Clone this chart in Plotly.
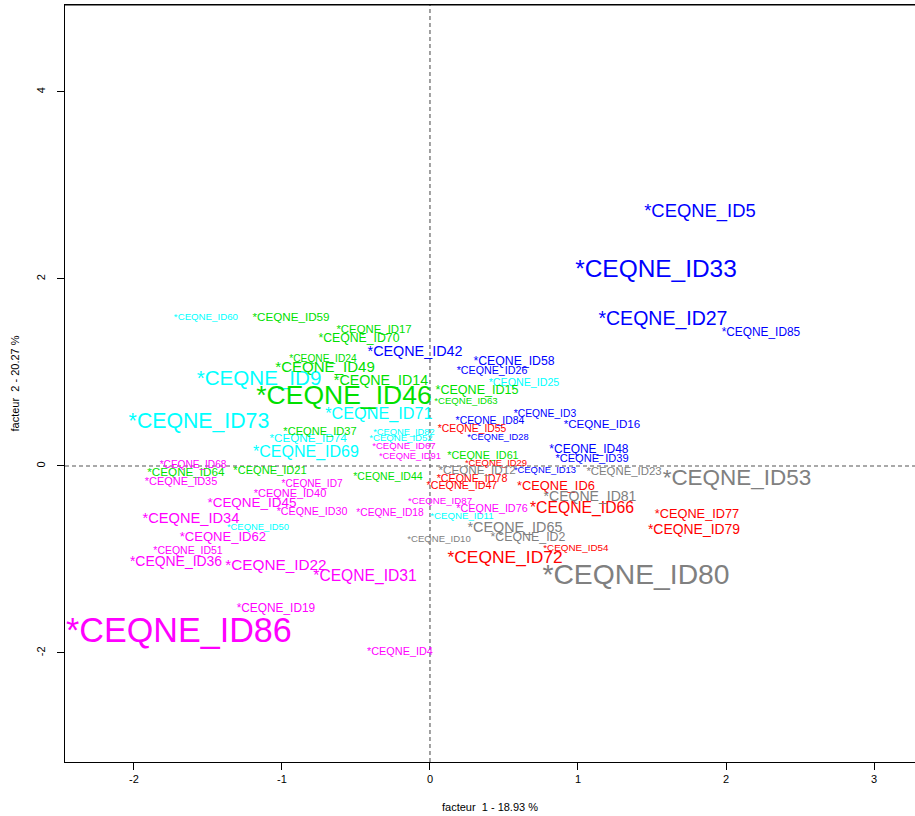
import plotly.graph_objects as go

# ---- data ----
ids = ["ID5", "ID33", "ID27", "ID85", "ID42", "ID58", "ID26", "ID3", "ID84", "ID16", "ID28", "ID48", "ID39", "ID13",
       "ID60", "ID9", "ID73", "ID71", "ID25", "ID74", "ID82", "ID52", "ID69", "ID11", "ID50",
       "ID59", "ID17", "ID70", "ID24", "ID49", "ID14", "ID46", "ID15", "ID63", "ID37", "ID61", "ID64", "ID21", "ID44",
       "ID67", "ID91", "ID68", "ID35", "ID7", "ID40", "ID45", "ID87", "ID30", "ID18", "ID76", "ID34", "ID62", "ID51",
       "ID36", "ID22", "ID31", "ID19", "ID86", "ID4",
       "ID55", "ID29", "ID78", "ID47", "ID6", "ID66", "ID77", "ID79", "ID54", "ID72",
       "ID12", "ID23", "ID53", "ID81", "ID65", "ID2", "ID10", "ID80"]

groupe = ([1] * 14 + [2] * 11 + [3] * 14 + [4] * 20 + [5] * 10 + [6] * 8)

facteur1 = [1.824, 1.527, 1.574, 2.236, -0.101, 0.568, 0.419, 0.777, 0.405, 1.162, 0.459, 1.074, 1.095, 0.777,
            -1.514, -1.155, -1.561, -0.345, 0.635, -0.824, -0.176, -0.196, -0.838, 0.216, -1.162,
            -0.939, -0.378, -0.480, -0.723, -0.709, -0.331, -0.581, 0.318, 0.243, -0.743, 0.358, -1.649, -1.081, -0.284,
            -0.176, -0.135, -1.601, -1.682, -0.797, -0.946, -1.203, 0.068, -0.797, -0.270, 0.419, -1.615, -1.399, -1.635,
            -1.716, -1.041, -0.439, -1.041, -1.696, -0.203,
            0.284, 0.446, 0.284, 0.216, 0.851, 1.027, 1.804, 1.784, 0.986, 0.507,
            0.318, 1.311, 2.074, 1.081, 0.574, 0.662, 0.061, 1.392]

facteur2 = [2.717, 2.086, 1.561, 1.422, 1.209, 1.112, 1.016, 0.556, 0.481, 0.439, 0.299, 0.171, 0.075, -0.053,
            1.583, 0.920, 0.460, 0.545, 0.888, 0.289, 0.353, 0.289, 0.139, -0.545, -0.663,
            1.583, 1.455, 1.358, 1.134, 1.048, 0.909, 0.738, 0.802, 0.684, 0.364, 0.107, -0.075, -0.053, -0.118,
            0.203, 0.096, 0.000, -0.171, -0.203, -0.299, -0.406, -0.385, -0.492, -0.503, -0.460, -0.567, -0.770, -0.909,
            -1.037, -1.070, -1.187, -1.529, -1.786, -1.989,
            0.396, 0.021, -0.139, -0.214, -0.225, -0.460, -0.524, -0.695, -0.888, -0.995,
            -0.053, -0.064, -0.139, -0.332, -0.663, -0.770, -0.791, -1.187]

# relative label weight (cex-like)
poids = [1.86, 2.47, 1.97, 1.20, 1.45, 1.24, 1.08, 1.04, 1.05, 1.17, 0.94, 1.21, 1.12, 0.95,
         0.98, 2.08, 2.15, 1.64, 1.08, 1.18, 0.94, 0.97, 1.62, 0.98, 0.95,
         1.18, 1.15, 1.24, 1.03, 1.52, 1.44, 2.68, 1.27, 0.97, 1.12, 1.09, 1.18, 1.12, 1.06,
         0.97, 0.95, 1.02, 1.11, 1.02, 1.11, 1.36, 0.98, 1.08, 1.03, 1.09, 1.48, 1.32, 1.06,
         1.41, 1.55, 1.58, 1.20, 3.45, 1.10,
         1.05, 0.95, 1.08, 1.08, 1.30, 1.59, 1.29, 1.41, 1.00, 1.76,
         1.18, 1.15, 2.27, 1.42, 1.45, 1.25, 0.97, 2.86]

couleurs_groupes = {1: "#0000FF", 2: "#00FFFF", 3: "#00E000", 4: "#FF00FF", 5: "#FF0000", 6: "#808080"}

x_ticks = [-2, -1, 0, 1, 2, 3]
y_ticks = [-2, 0, 2, 4]
x_title = "facteur  1 - 18.93 %"
y_title = "facteur  2 - 20.27 %"

# ---- figure ----
labels = ["*CEQNE_" + i for i in ids]
colors = [couleurs_groupes[g] for g in groupe]
sizes = [10 * p * 0.99 for p in poids]

fig = go.Figure()
fig.add_trace(go.Scatter(
    x=facteur1, y=facteur2, mode="text", text=labels,
    textposition="middle center",
    textfont=dict(family="Liberation Sans, Arial, sans-serif", size=sizes, color=colors),
    hoverinfo="text", showlegend=False,
))

dash_style = dict(color="#555555", width=1.1, dash="4px,3px")
fig.add_shape(type="line", xref="paper", yref="y", x0=0, x1=1, y0=0, y1=0, line=dash_style, layer="below")
fig.add_shape(type="line", xref="x", yref="paper", x0=0, x1=0, y0=0, y1=1, line=dash_style, layer="below")

fig.update_layout(
    width=915, height=816,
    margin=dict(l=65, r=0, t=5, b=54),
    paper_bgcolor="white", plot_bgcolor="white",
    font=dict(family="Liberation Sans, Arial, sans-serif", color="black", size=11),
)
fig.update_xaxes(
    range=[-2.466, 3.277], showgrid=False, zeroline=False,
    showline=True, linecolor="black", linewidth=1.2, mirror=True,
    ticks="outside", ticklen=7, tickcolor="black",
    tickvals=x_ticks, ticktext=[str(v) for v in x_ticks],
    tickfont=dict(size=11),
    title=dict(text=x_title, font=dict(size=11), standoff=19),
)
fig.update_yaxes(
    range=[-3.166, 4.930], showgrid=False, zeroline=False,
    showline=True, linecolor="black", linewidth=1.2, mirror=False,
    ticks="outside", ticklen=7, tickcolor="black",
    tickvals=y_ticks, ticktext=[str(v) for v in y_ticks],
    tickangle=-90, tickfont=dict(size=11), ticklabelstandoff=8,
    title=dict(text=y_title, font=dict(size=11), standoff=12),
)
# top border line
fig.add_shape(type="line", xref="paper", yref="paper", x0=0, x1=1, y0=1, y1=1,
              line=dict(color="black", width=1.2))

fig.write_html("out.html", config={"displayModeBar": False},
               post_script="document.body.style.margin='0';document.body.style.overflow='hidden';")
